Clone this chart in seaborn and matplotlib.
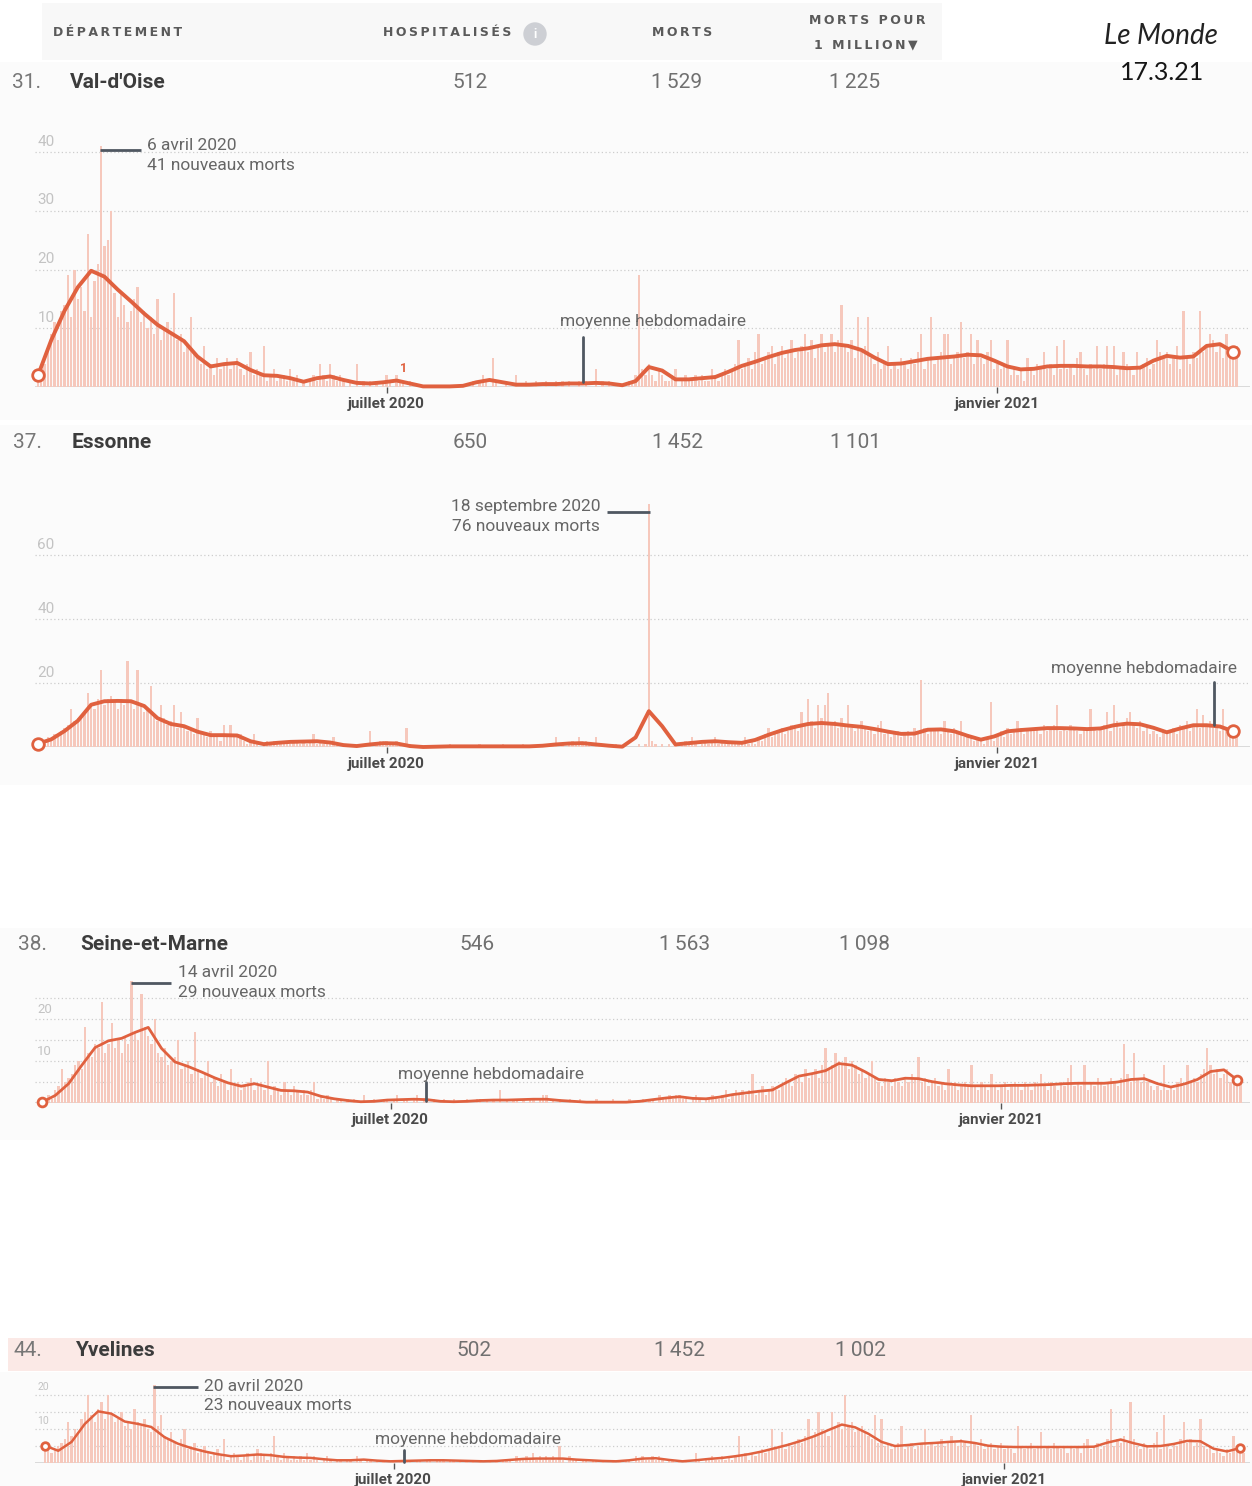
import numpy as np
import pandas as pd
import matplotlib
matplotlib.use("Agg")
import matplotlib.pyplot as plt
import seaborn as sns
from matplotlib.patches import Rectangle, Ellipse

# Données (Le Monde, 17.3.21)
rangs = ["31.", "37.", "38.", "44."]
departements = ["Val-d'Oise", "Essonne", "Seine-et-Marne", "Yvelines"]
hospitalises = [512, 650, 546, 502]
morts = [1529, 1452, 1563, 1452]
morts_par_million = [1225, 1101, 1098, 1002]

date_debut = pd.Timestamp("2020-03-18")
mois_ticks = [pd.Timestamp("2020-07-01"), pd.Timestamp("2021-01-01")]
mois_labels = ["juillet 2020", "janvier 2021"]
pas_moyenne = 4  # la moyenne hebdomadaire est relevée tous les 4 jours

# Nouveaux morts quotidiens, du 18 mars 2020 au 14 mars 2021
morts_val_doise = [
    1, 3, 4, 7, 9, 11, 8, 13, 14, 19, 12, 20, 15, 17, 13, 26, 12, 18, 21, 41,
    24, 25, 30, 16, 12, 16, 14, 11, 13, 15, 17, 11, 13, 10, 12, 9, 15, 8, 10, 11,
    9, 16, 8, 9, 6, 7, 12, 6, 5, 4, 7, 3, 4, 2, 5, 3, 4, 5, 3, 4,
    5, 3, 2, 4, 6, 2, 3, 2, 7, 1, 2, 3, 1, 2, 2, 1, 3, 1, 2, 0,
    1, 0, 1, 2, 1, 4, 2, 1, 4, 2, 1, 2, 1, 0, 1, 0, 4, 0, 1, 0,
    1, 0, 1, 0, 1, 2, 1, 0, 2, 1, 1, 0, 1, 0, 0, 0, 0, 0, 0, 0,
    0, 0, 0, 0, 0, 0, 0, 0, 0, 0, 0, 1, 0, 1, 2, 1, 0, 5, 1, 0,
    0, 1, 0, 0, 2, 0, 0, 1, 0, 0, 1, 0, 0, 1, 0, 0, 1, 0, 1, 0,
    1, 0, 0, 1, 0, 1, 0, 0, 3, 0, 1, 0, 1, 0, 0, 0, 0, 0, 1, 1,
    2, 19, 3, 2, 4, 2, 1, 3, 2, 1, 1, 2, 3, 0, 1, 2, 1, 1, 2, 1,
    2, 1, 1, 3, 2, 1, 2, 3, 2, 3, 4, 8, 3, 4, 5, 3, 6, 9, 4, 5,
    6, 7, 4, 6, 7, 5, 6, 8, 5, 6, 7, 9, 6, 8, 5, 7, 9, 6, 7, 9,
    6, 8, 14, 7, 6, 8, 5, 12, 6, 7, 12, 5, 4, 6, 3, 4, 7, 3, 4, 3,
    5, 4, 3, 5, 4, 6, 9, 3, 5, 12, 4, 5, 6, 9, 9, 4, 5, 6, 11, 5,
    6, 9, 4, 8, 5, 4, 6, 8, 3, 4, 3, 4, 8, 2, 3, 2, 3, 1, 5, 3,
    2, 4, 3, 6, 3, 4, 2, 7, 3, 8, 3, 4, 2, 5, 6, 3, 2, 4, 3, 7,
    3, 4, 7, 3, 7, 2, 3, 6, 4, 3, 2, 6, 3, 4, 5, 3, 4, 8, 6, 5,
    6, 4, 5, 7, 3, 13, 5, 4, 6, 5, 13, 6, 7, 9, 8, 6, 7, 5, 9, 6,
    5, 7,
]
morts_essonne = [
    1, 2, 1, 3, 2, 4, 3, 5, 6, 7, 12, 8, 9, 10, 11, 17, 13, 12, 15, 24,
    13, 15, 16, 14, 12, 15, 13, 27, 14, 12, 24, 13, 11, 12, 19, 10, 8, 13, 9, 7,
    8, 13, 6, 11, 7, 5, 6, 4, 9, 5, 4, 3, 5, 3, 4, 2, 7, 3, 7, 4,
    3, 4, 2, 1, 2, 4, 1, 0, 1, 2, 1, 2, 1, 2, 1, 2, 1, 2, 2, 1,
    2, 1, 2, 4, 1, 2, 1, 2, 1, 3, 1, 0, 1, 0, 0, 1, 0, 0, 1, 0,
    5, 0, 1, 2, 1, 2, 1, 1, 2, 1, 0, 6, 1, 0, 0, 0, 0, 0, 0, 0,
    0, 0, 0, 0, 1, 0, 0, 0, 0, 0, 0, 0, 0, 1, 0, 0, 0, 0, 0, 0,
    1, 0, 0, 0, 0, 0, 1, 0, 0, 0, 0, 1, 0, 0, 0, 1, 3, 0, 1, 0,
    1, 2, 1, 3, 1, 2, 1, 0, 3, 1, 0, 1, 0, 0, 1, 0, 0, 0, 0, 0,
    0, 1, 0, 1, 76, 2, 1, 0, 1, 0, 1, 0, 1, 0, 1, 2, 1, 3, 1, 0,
    1, 2, 1, 2, 3, 1, 2, 1, 2, 1, 1, 2, 1, 3, 1, 2, 1, 3, 2, 4,
    6, 3, 4, 5, 6, 4, 5, 7, 6, 5, 11, 7, 15, 8, 6, 13, 9, 13, 17, 7,
    8, 6, 9, 7, 13, 6, 5, 7, 8, 6, 5, 6, 4, 7, 8, 4, 5, 3, 4, 5,
    3, 4, 5, 3, 6, 5, 21, 6, 4, 5, 6, 5, 4, 8, 5, 4, 6, 5, 8, 3,
    4, 3, 2, 3, 2, 1, 3, 14, 2, 4, 5, 3, 6, 4, 5, 8, 6, 4, 5, 6,
    5, 6, 4, 7, 5, 6, 7, 13, 5, 6, 5, 7, 6, 5, 4, 6, 5, 12, 6, 5,
    6, 7, 11, 5, 13, 8, 6, 7, 9, 11, 7, 6, 8, 5, 6, 4, 5, 4, 3, 5,
    4, 5, 6, 4, 7, 6, 8, 5, 7, 12, 6, 10, 7, 8, 6, 7, 5, 12, 6, 4,
    5, 3,
]
morts_seine_et_marne = [
    0, 1, 2, 1, 3, 4, 8, 5, 6, 7, 9, 10, 8, 18, 12, 11, 14, 13, 24, 12,
    14, 19, 13, 15, 12, 16, 14, 29, 17, 15, 26, 18, 16, 14, 20, 12, 11, 13, 9, 10,
    11, 15, 8, 9, 10, 7, 17, 8, 6, 7, 10, 5, 6, 4, 7, 5, 3, 8, 4, 5,
    3, 4, 5, 6, 3, 4, 5, 3, 10, 2, 4, 3, 2, 5, 3, 2, 4, 3, 2, 3,
    2, 3, 5, 1, 2, 1, 2, 1, 0, 1, 1, 0, 1, 0, 1, 0, 0, 2, 0, 0,
    1, 0, 0, 1, 1, 0, 1, 2, 0, 1, 1, 0, 1, 2, 0, 1, 1, 0, 1, 0,
    0, 1, 0, 0, 1, 0, 0, 0, 1, 0, 0, 1, 1, 0, 1, 0, 1, 0, 3, 0,
    1, 0, 1, 1, 0, 1, 0, 1, 1, 0, 1, 2, 2, 0, 1, 0, 1, 0, 0, 1,
    0, 0, 1, 0, 0, 0, 0, 1, 0, 0, 0, 0, 1, 0, 0, 0, 0, 1, 0, 0,
    0, 1, 0, 1, 1, 0, 2, 1, 1, 2, 1, 2, 2, 1, 1, 0, 1, 2, 1, 0,
    1, 1, 2, 1, 1, 2, 3, 1, 2, 3, 2, 3, 2, 3, 7, 2, 3, 4, 2, 3,
    4, 3, 3, 4, 6, 5, 4, 7, 6, 5, 8, 6, 7, 8, 6, 9, 13, 8, 9, 12,
    10, 9, 11, 8, 10, 9, 7, 8, 6, 7, 10, 6, 5, 4, 6, 5, 4, 6, 5, 4,
    6, 5, 7, 6, 11, 5, 6, 4, 5, 6, 4, 5, 3, 8, 4, 5, 3, 4, 5, 4,
    9, 4, 3, 5, 4, 3, 7, 4, 3, 4, 5, 3, 4, 5, 4, 3, 5, 4, 3, 5,
    4, 7, 4, 3, 5, 4, 3, 5, 4, 6, 9, 4, 5, 4, 9, 3, 5, 4, 6, 5,
    4, 5, 6, 5, 4, 6, 14, 7, 5, 12, 6, 5, 7, 5, 4, 3, 4, 3, 9, 3,
    4, 3, 5, 6, 4, 9, 5, 6, 5, 7, 8, 13, 9, 7, 8, 6, 7, 8, 5, 6,
    4, 5,
]
morts_yvelines = [
    5, 4, 3, 4, 5, 6, 7, 12, 8, 10, 9, 13, 15, 20, 14, 12, 16, 18, 13, 20,
    14, 12, 13, 15, 11, 12, 10, 16, 12, 11, 13, 10, 9, 23, 11, 14, 8, 7, 9, 6,
    5, 7, 10, 4, 5, 6, 3, 4, 5, 3, 2, 3, 4, 2, 7, 1, 2, 3, 2, 1,
    2, 3, 1, 2, 4, 3, 2, 1, 3, 8, 2, 1, 3, 2, 1, 2, 1, 2, 1, 3,
    1, 2, 1, 0, 1, 2, 1, 0, 1, 1, 0, 1, 1, 0, 2, 1, 0, 1, 1, 0,
    1, 0, 1, 0, 0, 1, 0, 1, 0, 1, 1, 0, 1, 1, 0, 1, 1, 0, 1, 1,
    1, 0, 1, 1, 0, 1, 0, 1, 0, 1, 0, 1, 0, 0, 1, 0, 1, 0, 1, 1,
    1, 0, 2, 1, 1, 2, 1, 3, 1, 2, 1, 2, 1, 2, 1, 5, 1, 0, 2, 1,
    1, 0, 1, 1, 0, 1, 1, 0, 1, 0, 0, 1, 0, 1, 0, 1, 1, 0, 2, 1,
    2, 1, 1, 2, 1, 2, 1, 0, 1, 1, 0, 1, 0, 1, 0, 0, 3, 1, 0, 1,
    1, 2, 1, 1, 2, 1, 2, 1, 2, 8, 2, 3, 1, 3, 2, 3, 4, 3, 4, 10,
    4, 5, 9, 4, 6, 5, 6, 7, 6, 8, 13, 8, 9, 15, 10, 9, 8, 15, 11, 12,
    10, 20, 11, 12, 9, 10, 11, 9, 8, 7, 14, 6, 13, 5, 6, 4, 5, 6, 11, 4,
    5, 6, 4, 5, 6, 10, 5, 6, 5, 6, 7, 5, 6, 8, 6, 5, 7, 6, 5, 14,
    6, 5, 7, 4, 5, 6, 4, 5, 6, 4, 5, 4, 3, 11, 5, 4, 5, 6, 4, 5,
    9, 4, 5, 4, 6, 5, 4, 5, 3, 5, 4, 5, 3, 6, 7, 4, 5, 6, 4, 5,
    7, 16, 5, 7, 6, 8, 6, 18, 7, 5, 4, 6, 5, 4, 6, 9, 4, 14, 5, 4,
    6, 5, 7, 12, 6, 7, 5, 6, 13, 5, 4, 5, 3, 4, 3, 2, 4, 3, 8, 4,
    5, 3,
]

# Moyenne hebdomadaire (un relevé tous les 4 jours)
moyenne_val_doise = [
    2.0, 8.0, 13.0, 17.0, 19.8, 18.8, 16.6, 14.6, 12.5, 10.6,
    9.2, 7.8, 5.2, 3.5, 3.9, 4.1, 2.9, 2.0, 1.9, 1.5,
    0.9, 1.5, 1.8, 1.2, 0.7, 0.6, 0.8, 1.1, 0.6, 0.1,
    0.1, 0.1, 0.2, 0.8, 1.2, 0.8, 0.4, 0.4, 0.5, 0.5,
    0.6, 0.6, 0.7, 0.6, 0.3, 1.0, 3.4, 2.8, 1.3, 1.3,
    1.5, 1.7, 2.6, 3.6, 4.3, 5.1, 5.8, 6.3, 6.6, 7.1,
    7.3, 7.0, 6.3, 5.0, 3.9, 4.0, 4.4, 4.8, 5.0, 5.2,
    5.5, 5.4, 4.5, 3.5, 3.0, 3.1, 3.5, 3.6, 3.6, 3.5,
    3.5, 3.4, 3.2, 3.3, 4.5, 5.3, 5.0, 5.2, 7.0, 7.3,
    6.0,
]
moyenne_essonne = [
    1.0, 2.4, 5.0, 8.2, 13.2, 14.3, 14.4, 14.3, 12.8, 9.0,
    7.2, 6.5, 4.8, 3.7, 3.7, 3.6, 1.8, 0.9, 1.3, 1.6,
    1.7, 1.8, 1.4, 0.6, 0.3, 0.8, 1.2, 1.1, 0.3, 0.0,
    0.1, 0.2, 0.2, 0.2, 0.2, 0.2, 0.2, 0.2, 0.4, 0.8,
    1.1, 1.2, 0.8, 0.4, 0.1, 3.0, 11.2, 6.5, 0.8, 1.2,
    1.6, 1.8, 1.5, 1.3, 2.2, 3.8, 5.2, 6.3, 7.2, 7.5,
    7.2, 6.7, 6.3, 5.6, 4.8, 4.1, 4.2, 5.4, 5.5, 4.9,
    3.5, 2.3, 3.3, 4.9, 5.3, 5.6, 5.9, 5.9, 5.8, 5.6,
    5.8, 6.8, 7.3, 7.1, 6.0, 4.6, 5.8, 6.8, 6.8, 6.4,
    4.9,
]
moyenne_seine_et_marne = [
    0.2, 1.8, 4.6, 9.0, 13.2, 14.8, 15.4, 16.8, 18.0, 13.0,
    9.8, 8.7, 7.4, 6.0, 4.8, 4.0, 4.6, 3.8, 3.0, 2.9,
    2.6, 1.6, 1.0, 0.6, 0.3, 0.4, 0.7, 0.8, 0.9, 0.8,
    0.4, 0.3, 0.4, 0.6, 0.7, 0.7, 0.8, 0.9, 0.9, 0.6,
    0.4, 0.2, 0.2, 0.2, 0.2, 0.4, 0.8, 1.2, 1.5, 1.1,
    1.0, 1.4, 2.0, 2.4, 2.8, 3.1, 4.8, 6.4, 7.0, 7.7,
    9.4, 9.0, 7.4, 5.6, 5.3, 5.9, 5.8, 5.1, 4.6, 4.3,
    4.1, 4.1, 4.1, 4.2, 4.2, 4.3, 4.4, 4.6, 4.7, 4.7,
    4.7, 5.0, 5.6, 5.8, 4.6, 3.8, 4.5, 5.6, 7.5, 7.9,
    5.5,
]
moyenne_yvelines = [
    5.1, 3.6, 6.2, 11.5, 15.2, 14.5, 12.2, 11.5, 10.6, 7.6,
    5.7, 4.4, 3.4, 2.6, 2.0, 2.2, 2.5, 2.3, 1.8, 1.6,
    1.5, 1.1, 0.8, 0.8, 1.0, 0.7, 0.5, 0.6, 0.7, 0.8,
    0.8, 0.7, 0.6, 0.5, 0.6, 0.9, 1.2, 1.3, 1.3, 1.3,
    1.0, 0.8, 0.6, 0.5, 0.8, 1.3, 1.4, 0.9, 0.5, 0.8,
    1.2, 1.5, 2.0, 2.6, 3.4, 4.4, 5.4, 6.6, 8.0, 9.7,
    11.3, 10.5, 8.6, 6.2, 5.0, 5.3, 5.7, 5.9, 6.2, 6.4,
    5.9, 5.1, 4.8, 4.7, 4.7, 4.7, 4.7, 4.7, 4.7, 4.8,
    6.0, 6.9, 5.8, 4.9, 5.0, 5.6, 6.5, 6.4, 4.2, 3.4,
    4.4,
]

# Annotations du pic
pics_date = ["6 avril 2020", "18 septembre 2020", "14 avril 2020", "20 avril 2020"]
pics_valeur = [41, 76, 29, 23]

# ---------------------------------------------------------------------------
W, H = 1252, 1486
PX_JOUR = 3.32
LIGNE = "#e0613f"
BARRE = "#f6c8bc"
GRIS_TXT = "#666666"
GRIS_ANNOT = "#4f5761"

sns.set_theme(style="white")
plt.rcParams["font.family"] = ["Roboto", "DejaVu Sans"]


def fx(px):
    return px / W


def fy(py):
    return 1 - py / H


def nombre(v):
    return f"{v:,}".replace(",", "\u202f")


def espace(s):
    return "\u2009".join(s)


fig = plt.figure(figsize=(W / 100, H / 100), dpi=100)
fig.patch.set_facecolor("white")


def fond(x0, y0, x1, y1, couleur):
    fig.add_artist(Rectangle((fx(x0), fy(y1)), (x1 - x0) / W, (y1 - y0) / H,
                             transform=fig.transFigure, color=couleur,
                             zorder=-5, linewidth=0))


# Fonds légèrement gris des captures
fond(42, 3, 942, 60, "#f8f8f8")
fond(0, 62, W, 420, "#fbfbfb")
fond(0, 425, W, 785, "#fbfbfb")
fond(0, 928, W, 1140, "#fbfbfb")
fond(0, 1372, W, H, "#fbfbfb")
fond(8, 1338, W, 1371, "#fbe9e6")

# En-tête du tableau
entete = dict(fontsize=9, fontweight="bold", color="#5a5a5a",
              family=["DejaVu Sans"], va="center")
fig.text(fx(53), fy(33), espace("DÉPARTEMENT"), ha="left", **entete)
fig.text(fx(447), fy(33), espace("HOSPITALISÉS"), ha="center", **entete)
fig.text(fx(682), fy(33), espace("MORTS"), ha="center", **entete)
fig.text(fx(867), fy(20), espace("MORTS POUR"), ha="center", **entete)
fig.text(fx(866), fy(45), espace("1 MILLION") + "\u2009▼", ha="center", **entete)
fig.add_artist(Ellipse((fx(535), fy(34)), 22 / W, 22 / H, transform=fig.transFigure,
                       color="#cdcfd4", zorder=2))
fig.text(fx(535), fy(34), "i", ha="center", va="center", fontsize=9,
         fontweight="bold", color="white", zorder=3)
fig.text(fx(1161), fy(36), "Le Monde", ha="center", va="center", fontsize=20,
         style="italic", family=["Lato", "DejaVu Sans"], color="#222222")
fig.text(fx(1162), fy(73), "17.3.21", ha="center", va="center", fontsize=18,
         family=["Lato", "DejaVu Sans"], color="#151515")

# Mise en page de chaque panneau (pixels de l'image)
panneaux = [
    dict(quot=morts_val_doise, moy=moyenne_val_doise, jour0=38, base=387,
         ppu=5.87, ytop=42.5, grille=[10, 20, 30, 40], etiq=[10, 20, 30, 40],
         fs_y=11, lw=2.8, ms=70, ligne_y=82,
         x_ligne=[12, 70, 470, 677, 855]),
    dict(quot=morts_essonne, moy=moyenne_essonne, jour0=38, base=747,
         ppu=3.2, ytop=78, grille=[20, 40, 60], etiq=[20, 40, 60],
         fs_y=11, lw=2.8, ms=70, ligne_y=443,
         x_ligne=[13, 72, 470, 678, 856]),
    dict(quot=morts_seine_et_marne, moy=moyenne_seine_et_marne, jour0=42,
         base=1103, ppu=4.2, ytop=30, grille=[5, 10, 15, 20, 25], etiq=[10, 20],
         fs_y=9.5, lw=2.0, ms=40, ligne_y=944,
         x_ligne=[18, 80, 477, 685, 864]),
    dict(quot=morts_yvelines, moy=moyenne_yvelines, jour0=45, base=1463,
         ppu=3.4, ytop=24.5, grille=[5, 10, 15, 20], etiq=[10, 20],
         fs_y=7.5, lw=1.8, ms=30, ligne_y=1351,
         x_ligne=[14, 75, 474, 680, 860]),
]

# Position des annotations (jour, valeur)
annot_pic = [
    dict(seg=(18.7, 31.0, 40.3), txt=(32.8, 41.2, 37.8), ha="left"),
    dict(seg=(171.4, 184.3, 73.4), txt=(169.3, 75.3, 69.0), ha="right"),
    dict(seg=(26.8, 38.9, 28.6), txt=(41.0, 31.0, 26.2), ha="left"),
    dict(seg=(32.5, 46.1, 22.4), txt=(47.9, 22.4, 16.8), ha="left"),
]
annot_moy = [
    dict(txt=(157.2, 11.1), ha="left", trait=(164.2, 0.85, 8.5)),
    dict(txt=(361.1, 24.4), ha="right", trait=(354.2, 6.9, 20.3)),
    dict(txt=(107.2, 6.9), ha="left", trait=(115.7, 0.5, 5.0)),
    dict(txt=(99.4, 6.8), ha="left", trait=(108.1, 0.3, 3.8)),
]

jours_ticks = [(d - date_debut).days for d in mois_ticks]

for i, p in enumerate(panneaux):
    # ligne du tableau
    xl = p["x_ligne"]
    yl = fy(p["ligne_y"])
    fig.text(fx(xl[0]), yl, rangs[i], ha="left", va="center", fontsize=15, color="#777777")
    fig.text(fx(xl[1]), yl, departements[i], ha="left", va="center", fontsize=15,
             fontweight="bold", color="#3c3c3c")
    for xc, v in zip(xl[2:], [hospitalises[i], morts[i], morts_par_million[i]]):
        fig.text(fx(xc), yl, nombre(v), ha="center", va="center", fontsize=15,
                 color="#707070")

    # graphique
    hauteur = p["ytop"] * p["ppu"]
    ax = fig.add_axes([fx(35), fy(p["base"]), 1215 / W, hauteur / H])
    ax.set_facecolor("none")

    quot = np.array(p["quot"])
    jours = np.arange(len(quot))
    df = pd.DataFrame({"jour": jours, "morts": quot})
    sns.barplot(data=df, x="jour", y="morts", native_scale=True, width=0.7,
                color=BARRE, saturation=1, errorbar=None, linewidth=0, ax=ax,
                zorder=2)

    moy = np.array(p["moy"])
    jours_moy = np.arange(len(moy)) * pas_moyenne
    sns.lineplot(x=jours_moy, y=moy, color=LIGNE, linewidth=p["lw"], ax=ax,
                 clip_on=False, solid_joinstyle="round", solid_capstyle="round",
                 zorder=4)
    ax.scatter([jours_moy[0], jours_moy[-1]], [moy[0], moy[-1]], s=p["ms"],
               facecolor="white", edgecolor=LIGNE, linewidth=2, zorder=6,
               clip_on=False)

    ax.set_xlim((35 - p["jour0"]) / PX_JOUR, (1250 - p["jour0"]) / PX_JOUR)
    ax.set_ylim(0, p["ytop"])
    ax.axhline(0, color="#d4d4d4", lw=1.2, zorder=1)

    ax.set_yticks(p["grille"])
    ax.set_yticklabels([])
    ax.yaxis.grid(True, linestyle=(0, (1, 2)), color="#cdcdcd", linewidth=0.9)
    ax.xaxis.grid(False)
    ax.tick_params(axis="y", left=False, length=0)
    for v in p["etiq"]:
        ax.annotate(str(v), xy=(0.002, v), xycoords=ax.get_yaxis_transform(),
                    xytext=(0, 2.5), textcoords="offset points", ha="left",
                    va="bottom", fontsize=p["fs_y"], color="#c3c3c3")

    ax.set_xticks(jours_ticks)
    ax.set_xticklabels(mois_labels, fontweight="bold")
    ax.tick_params(axis="x", bottom=True, length=4, width=1, color="#555555",
                   pad=3, labelsize=11, labelcolor="#4a4a4a")
    ax.set_xlabel("")
    ax.set_ylabel("")
    sns.despine(ax=ax, left=True, bottom=True)

    # annotation du pic
    a = annot_pic[i]
    x0, x1, ys = a["seg"]
    ax.plot([x0, x1], [ys, ys], color=GRIS_ANNOT, lw=2, solid_capstyle="butt",
            clip_on=False, zorder=7)
    tx, ty1, ty2 = a["txt"]
    ax.text(tx, ty1, pics_date[i], ha=a["ha"], va="center", fontsize=12.5,
            color=GRIS_TXT, clip_on=False)
    ax.text(tx, ty2, f"{pics_valeur[i]} nouveaux morts", ha=a["ha"], va="center",
            fontsize=12.5, color=GRIS_TXT, clip_on=False)

    # annotation de la moyenne
    m = annot_moy[i]
    xt, yt = m["txt"]
    ax.text(xt, yt, "moyenne hebdomadaire", ha=m["ha"], va="center",
            fontsize=12.5, color=GRIS_TXT, clip_on=False, zorder=8)
    xv, y0, y1 = m["trait"]
    ax.plot([xv, xv], [y0, y1], color=GRIS_ANNOT, lw=2, clip_on=False, zorder=7)

    if i == 0:
        ax.text(110, 3.2, "1", ha="center", va="center", fontsize=9,
                fontweight="bold", color=LIGNE)

fig.savefig("out.png", dpi=100, facecolor="white")
